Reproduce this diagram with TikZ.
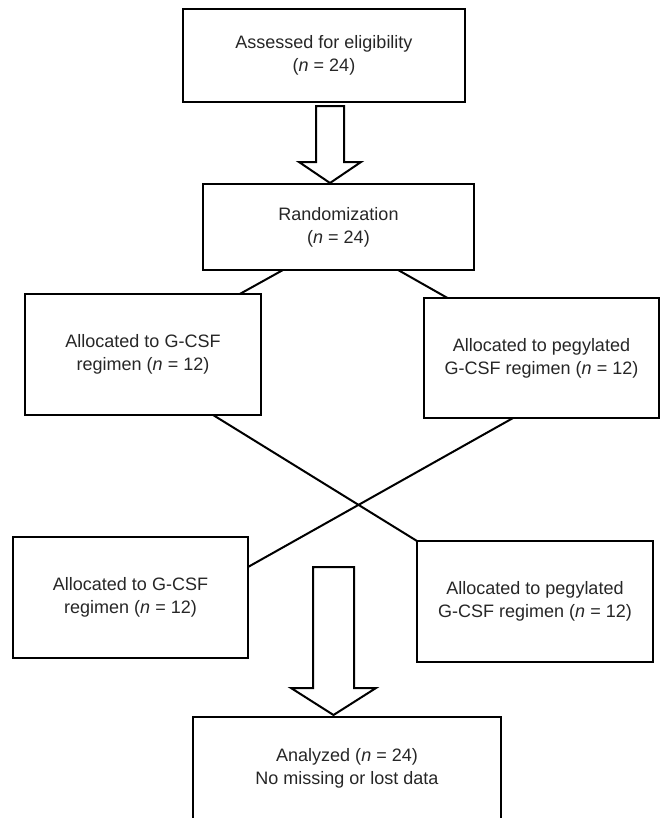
\documentclass[tikz,border=0pt]{standalone}
\usepackage{fontspec}
\setmainfont{Liberation Sans}
\usetikzlibrary{calc}
\begin{document}
\begin{tikzpicture}[x=0.75pt,y=-0.75pt,
  box/.style={draw, line width=1.5pt, inner sep=0pt, outer sep=0pt, align=center,
    text=black!85, font=\fontsize{13.5}{17.25}\selectfont},
  link/.style={line width=1.5pt},
  barrow/.style={draw, line width=1.5pt, fill=white, line join=miter}]
\useasboundingbox (0,0) rectangle (661,818);
\clip (0,0) rectangle (661,818);
% boxes
\node[box, minimum width={282*0.75pt}, minimum height={93*0.75pt}] (elig) at (324,55.5)
  {Assessed for eligibility\\(\textit{n} = 24)};
\node[box, minimum width={271*0.75pt}, minimum height={86*0.75pt}] (rand) at (338.5,227)
  {Randomization\\(\textit{n} = 24)};
\node[box, minimum width={236*0.75pt}, minimum height={121*0.75pt}] (ul) at (143,354.5)
  {Allocated to G-CSF\\regimen (\textit{n} = 12)};
\node[box, minimum width={235*0.75pt}, minimum height={120*0.75pt}] (ur) at (541.5,358)
  {Allocated to pegylated\\G-CSF regimen (\textit{n} = 12)};
\node[box, minimum width={235*0.75pt}, minimum height={121*0.75pt}] (ll) at (130.5,597.5)
  {Allocated to G-CSF\\regimen (\textit{n} = 12)};
\node[box, minimum width={236*0.75pt}, minimum height={121*0.75pt}] (lr) at (535,601.5)
  {Allocated to pegylated\\G-CSF regimen (\textit{n} = 12)};
\node[box, minimum width={308*0.75pt}, minimum height={103*0.75pt}] (an) at (347,768.5)
  {Analyzed (\textit{n} = 24)\\No missing or lost data};
% connectors
\draw[link] ($(rand.south west)!0.295!(rand.south east)$) -- ($(ul.north west)!0.91!(ul.north east)$);
\draw[link] ($(rand.south west)!0.72!(rand.south east)$) -- ($(ur.north west)!0.10!(ur.north east)$);
\draw[link] ($(ul.south west)!0.797!(ul.south east)$) -- (lr.north west);
\draw[link] ($(ur.south west)!0.379!(ur.south east)$) -- ($(ll.north east)!0.248!(ll.south east)$);
% block arrows
\coordinate (a1) at (330,106);
\coordinate (a2) at (333.5,567);
\draw[barrow, shift={(a1)}] (-14,0) -- (14,0) -- (14,56) -- (31,56) -- (0,77) -- (-31,56) -- (-14,56) -- cycle;
\draw[barrow, shift={(a2)}] (-20.5,0) -- (20.5,0) -- (20.5,121) -- (42.5,121) -- (0,148) -- (-42.5,121) -- (-20.5,121) -- cycle;
\end{tikzpicture}
\end{document}
